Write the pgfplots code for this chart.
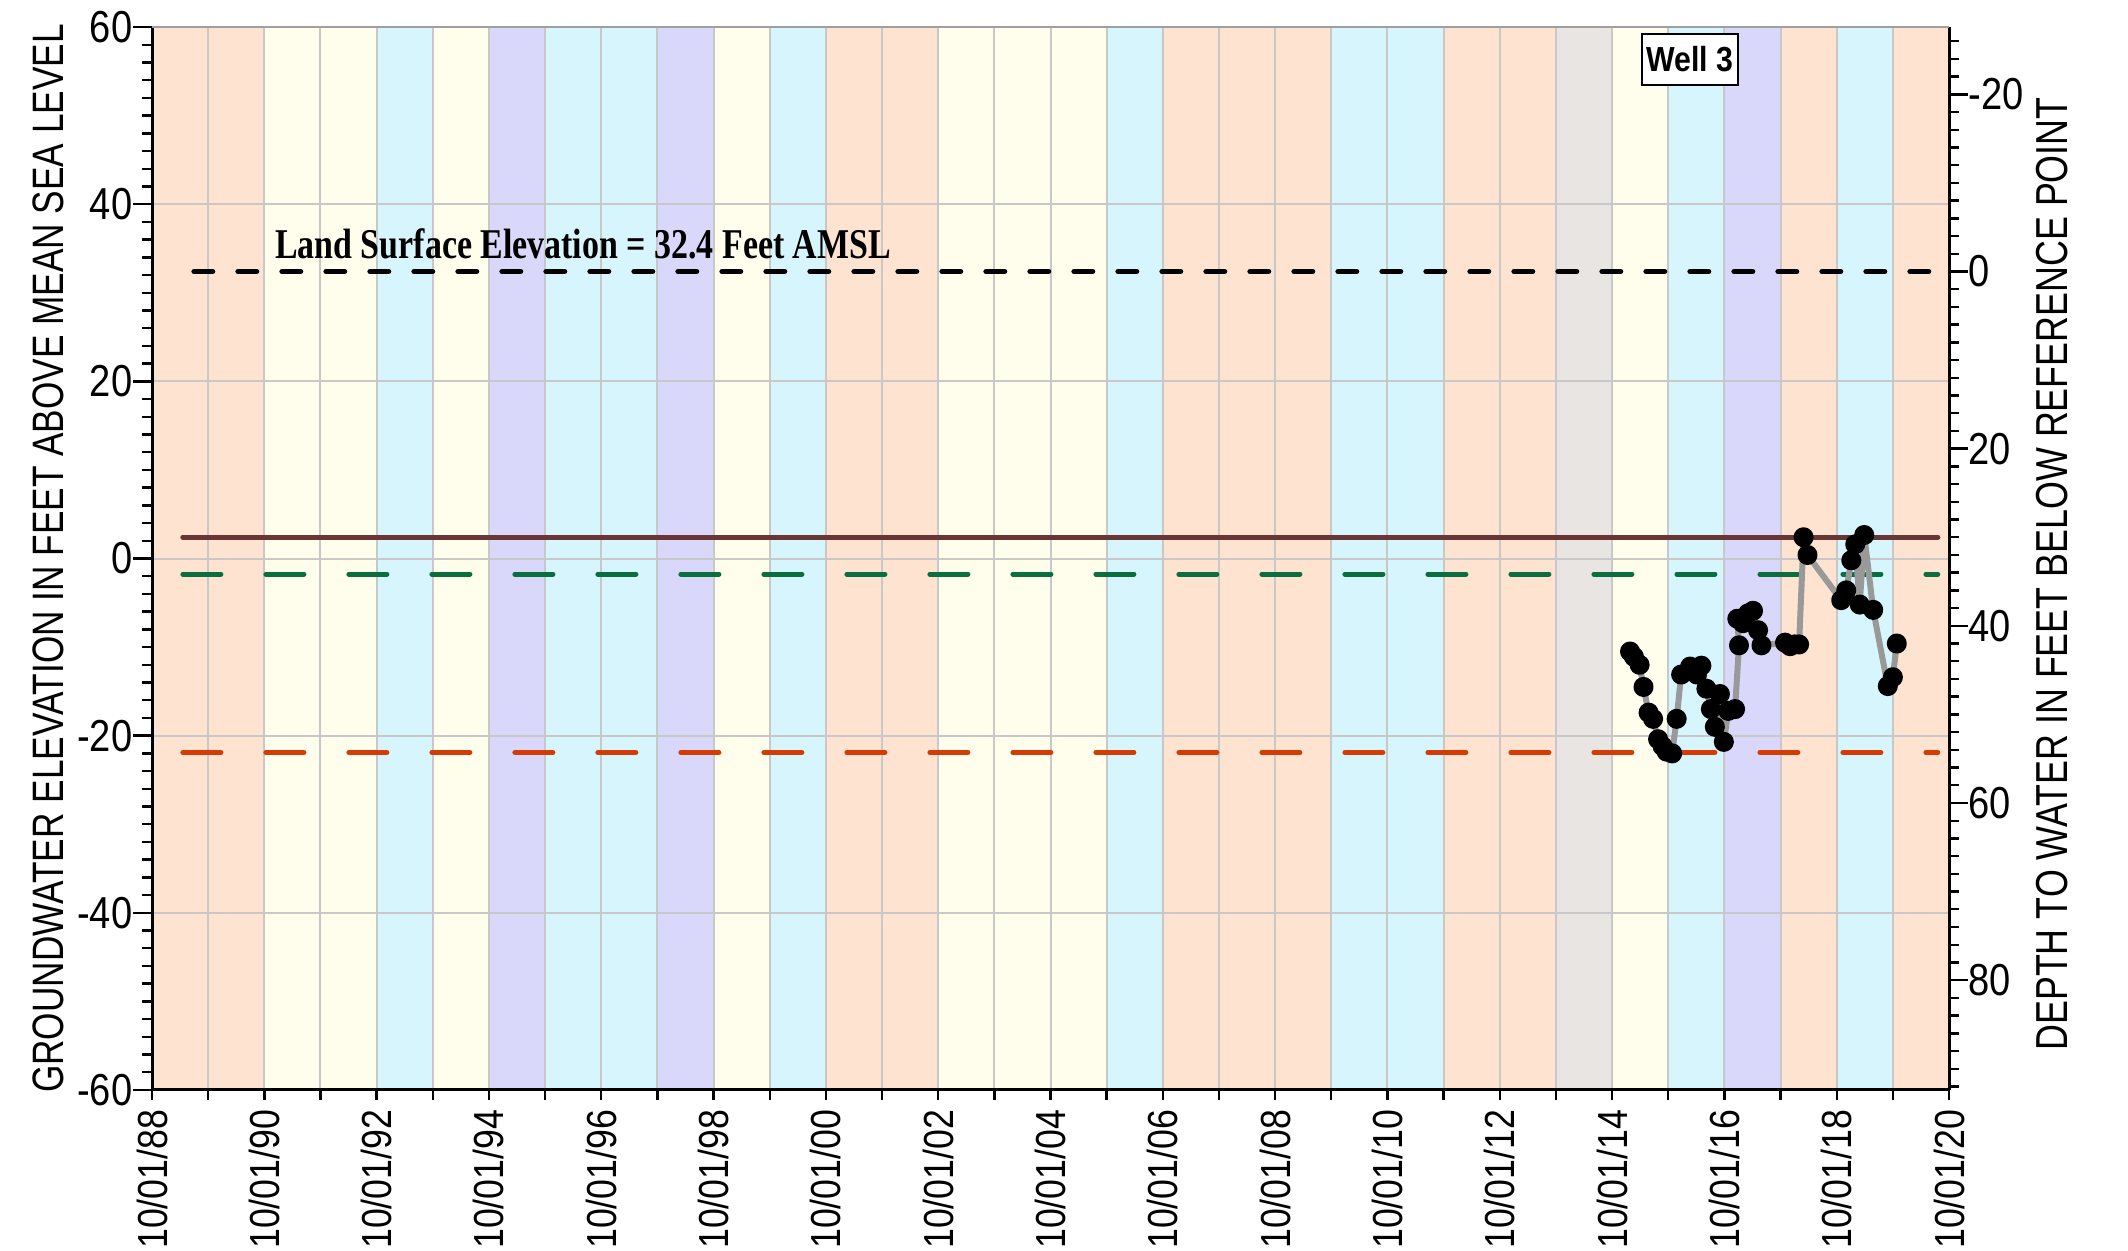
\documentclass[border=0pt]{standalone}
\usepackage{fontspec}
\setmainfont{Liberation Sans}
\newfontfamily\tickfont{Liberation Sans}[FakeStretch=0.85]
\newfontfamily\labfont{Liberation Sans}[FakeStretch=0.8]
\newfontfamily\serifc{Liberation Serif}[FakeStretch=0.8]
\newfontfamily\wellfont{Liberation Sans}[FakeStretch=0.87]
\usepackage{pgfplots}
\usepackage{pgfplotstable}
\pgfplotsset{compat=1.18}

\definecolor{peach}{RGB}{253,227,208}
\definecolor{pyellow}{RGB}{255,253,236}
\definecolor{pcyan}{RGB}{214,245,252}
\definecolor{plav}{RGB}{217,216,250}
\definecolor{pgray}{RGB}{233,229,227}
\definecolor{gridc}{RGB}{200,200,200}
\definecolor{topc}{RGB}{160,160,160}
\definecolor{brownl}{RGB}{106,53,53}
\definecolor{greenl}{RGB}{11,110,62}
\definecolor{redl}{RGB}{212,60,6}
\definecolor{datal}{RGB}{153,153,153}

\pgfplotstableread{
t e
2015.07 -10.5
2015.14 -11.1
2015.24 -12.0
2015.31 -14.5
2015.40 -17.4
2015.48 -18.1
2015.57 -20.4
2015.65 -21.2
2015.72 -21.8
2015.82 -22.0
2015.90 -18.1
2015.98 -13.1
2016.14 -12.2
2016.26 -13.1
2016.34 -12.1
2016.43 -14.7
2016.51 -17.0
2016.58 -19.0
2016.67 -15.3
2016.74 -20.7
2016.82 -17.2
2016.94 -17.0
2017.01 -9.8
2016.98 -6.8
2017.08 -7.3
2017.17 -6.2
2017.26 -5.9
2017.35 -8.1
2017.41 -9.8
2017.83 -9.5
2017.92 -9.9
2018.00 -9.7
2018.08 -9.7
2018.16 2.4
2018.23 0.4
2018.83 -4.7
2018.92 -3.6
2019.01 -0.2
2019.08 1.6
2019.16 -5.2
2019.24 2.65
2019.40 -5.8
2019.66 -14.4
2019.75 -13.4
2019.82 -9.6
}\welldata

\newcommand{\band}[3]{\addplot[on layer=axis background, draw=none, fill=#3, forget plot] coordinates {(#1,-60) (#2,-60) (#2,60) (#1,60)} -- cycle;}

\begin{document}
\begin{tikzpicture}
\begin{axis}[
  set layers,
  at={(0,0)}, anchor=south west,
  scale only axis, width=449.25pt, height=265.75pt,
  xmin=1988.75, xmax=2020.75, ymin=-60, ymax=60,
  axis x line*=bottom, axis y line*=left,
  axis line style={line width=0.75pt, black},
  xtick={1988.75,1990.75,1992.75,1994.75,1996.75,1998.75,2000.75,2002.75,2004.75,2006.75,2008.75,2010.75,2012.75,2014.75,2016.75,2018.75,2020.75},
  xticklabels={10/01/88,10/01/90,10/01/92,10/01/94,10/01/96,10/01/98,10/01/00,10/01/02,10/01/04,10/01/06,10/01/08,10/01/10,10/01/12,10/01/14,10/01/16,10/01/18,10/01/20},
  minor xtick={1988.75,1989.75,...,2020.75},
  every major x tick/.append style={draw=none},
  xminorgrids=true, xmajorgrids=false, ymajorgrids=true,
  ytick={-60,-40,...,60}, yticklabels={-60,-40,-20,0,20,40,60},
  minor ytick={-58,-56,...,58},
  tick align=outside,
  major tick length=4.75pt, minor tick length=2.4pt,
  tick style={black, line width=0.6pt},
  major grid style={color=gridc, line width=0.5pt},
  minor grid style={color=gridc, line width=0.5pt},
  xticklabel style={font=\tickfont\fontsize{10.5}{12}\selectfont, rotate=90, anchor=east, inner sep=0pt},
  yticklabel style={font=\tickfont\fontsize{11.2}{12}\selectfont, anchor=east, inner sep=0pt},
  clip=false,
]
\band{1988.75}{1990.75}{peach}
\band{1990.75}{1992.75}{pyellow}
\band{1992.75}{1993.75}{pcyan}
\band{1993.75}{1994.75}{pyellow}
\band{1994.75}{1995.75}{plav}
\band{1995.75}{1997.75}{pcyan}
\band{1997.75}{1998.75}{plav}
\band{1998.75}{1999.75}{pyellow}
\band{1999.75}{2000.75}{pcyan}
\band{2000.75}{2002.75}{peach}
\band{2002.75}{2005.75}{pyellow}
\band{2005.75}{2006.75}{pcyan}
\band{2006.75}{2009.75}{peach}
\band{2009.75}{2011.75}{pcyan}
\band{2011.75}{2013.75}{peach}
\band{2013.75}{2014.75}{pgray}
\band{2014.75}{2015.75}{pyellow}
\band{2015.75}{2016.75}{pcyan}
\band{2016.75}{2017.75}{plav}
\band{2017.75}{2018.75}{peach}
\band{2018.75}{2019.75}{pcyan}
\band{2019.75}{2020.75}{peach}
\draw[color=topc, line width=0.6pt] (rel axis cs:0,1) -- (rel axis cs:1,1);

\addplot[black, line width=1.4pt, line cap=round, dash pattern=on 4.6pt off 6.4pt] coordinates {(1989.5,32.4) (2020.55,32.4)};
\addplot[brownl, line width=1.3pt, line cap=round] coordinates {(1989.3,2.4) (2020.55,2.4)};
\addplot[greenl, line width=1.25pt, line cap=round, dash pattern=on 9.5pt off 11.25pt] coordinates {(1989.3,-1.75) (2020.55,-1.75)};
\addplot[redl, line width=1.25pt, line cap=round, dash pattern=on 9.5pt off 11.25pt] coordinates {(1989.3,-21.9) (2020.55,-21.9)};

\addplot[datal, line width=1.5pt, line join=round, mark=*, mark size=1.75pt, mark options={fill=black, draw=black, solid}] table[x=t, y=e] {\welldata};

\node[anchor=base west, inner sep=0pt, font=\serifc\bfseries\fontsize{10.6}{12}\selectfont] at (axis cs:1990.93,33.9) {Land Surface Elevation = 32.4 Feet AMSL};
\node[draw=black, line width=0.5pt, fill=white, inner sep=0pt, minimum width=24pt, minimum height=12.75pt, font=\wellfont\bfseries\fontsize{8.7}{10}\selectfont] at (rel axis cs:0.8559,0.9694) {Well 3};
\node[rotate=90, inner sep=0pt, font=\labfont\fontsize{11}{12}\selectfont] at (rel axis cs:-0.0579,0.5) {GROUNDWATER ELEVATION IN FEET ABOVE MEAN SEA LEVEL};
\end{axis}

\begin{axis}[
  set layers,
  at={(0,0)}, anchor=south west,
  scale only axis, width=449.25pt, height=265.75pt,
  xmin=1988.75, xmax=2020.75,
  axis x line=none, axis y line*=right,
  axis line style={line width=0.75pt, black},
  ymin=-27.6, ymax=92.4, y dir=reverse,
  ytick={-20,0,...,80}, yticklabels={-20,0,20,40,60,80},
  minor ytick={-26,-24,...,92},
  tick align=outside,
  major tick length=4.75pt, minor tick length=2.5pt,
  tick style={black, line width=0.6pt},
  yticklabel style={font=\tickfont\fontsize{11.2}{12}\selectfont, anchor=west, inner sep=0pt},
  clip=false,
]
\addplot[draw=none, forget plot] coordinates {(2000,0)};
\node[rotate=90, inner sep=0pt, font=\labfont\fontsize{11.2}{12}\selectfont] at (rel axis cs:1.0573,0.4854) {DEPTH TO WATER IN FEET BELOW REFERENCE POINT};
\end{axis}
\pgfresetboundingbox
\useasboundingbox (-38pt,-40.25pt) rectangle (494pt,272.5pt);
\end{tikzpicture}
\end{document}
